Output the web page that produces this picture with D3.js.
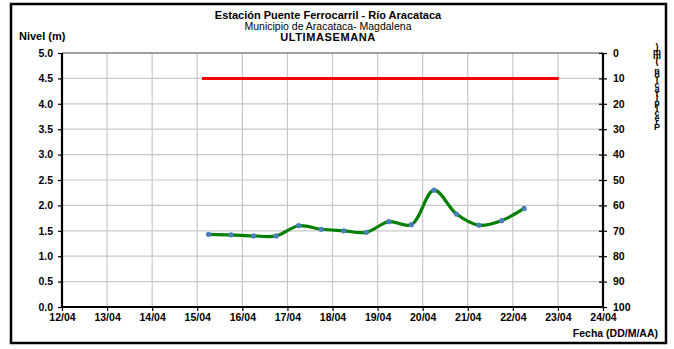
<!DOCTYPE html>
<html>
<head>
<meta charset="utf-8">
<script src="https://cdn.jsdelivr.net/npm/d3@7"></script>
<style>
	html, body { margin: 0; padding: 0; background: #fff; }
	svg { display: block; font-family: "Liberation Sans", Arial, sans-serif; }
</style>
</head>
<body>
<svg id="chart" width="674" height="349"></svg>
<script>
;(() => {
	'use strict';

	// chart data
	const titulo = 'Estación Puente Ferrocarril - Río Aracataca',
		subtitulo = 'Municipio de Aracataca- Magdalena',
		periodo = 'ULTIMASEMANA',
		precipTitulo = 'Precipitación (mm)';

	const fechas = [
		'2017-04-15T06:00', '2017-04-15T18:00', '2017-04-16T06:00', '2017-04-16T18:00',
		'2017-04-17T06:00', '2017-04-17T18:00', '2017-04-18T06:00', '2017-04-18T18:00',
		'2017-04-19T06:00', '2017-04-19T18:00', '2017-04-20T06:00', '2017-04-20T18:00',
		'2017-04-21T06:00', '2017-04-21T18:00', '2017-04-22T06:00'
	];
	const niveles = [1.43, 1.42, 1.40, 1.40, 1.60, 1.53, 1.50, 1.47, 1.68, 1.62, 2.30, 1.83, 1.61, 1.70, 1.94];

	// alert threshold (red line)
	const umbralFechas = ['2017-04-15T02:30', '2017-04-23T00:30'],
		umbralNivel = [4.5, 4.5];

	const xDominio = ['2017-04-12T00:00', '2017-04-24T00:00'],
		nivelTicks = [0, 0.5, 1, 1.5, 2, 2.5, 3, 3.5, 4, 4.5, 5],
		precipTicks = [0, 10, 20, 30, 40, 50, 60, 70, 80, 90, 100];

	const svg = d3.select('#chart'),
		margin = {left: 62, right: 603, top: 53, bottom: 307},
		parse = d3.utcParse('%Y-%m-%dT%H:%M');

	const x = d3.scaleUtc()
		.domain(xDominio.map(parse))
		.range([margin.left, margin.right]);
	const y = d3.scaleLinear().domain([0, 5]).range([margin.bottom, margin.top]);
	const yP = d3.scaleLinear().domain([0, 100]).range([margin.top, margin.bottom]);

	// outer frame
	svg.append('rect')
		.attr('x', 11).attr('y', 4)
		.attr('width', 655).attr('height', 339)
		.attr('fill', 'none').attr('stroke', '#000').attr('stroke-width', 2.5);

	// gridlines
	const dias = d3.utcDay.range(x.domain()[0], d3.utcDay.offset(x.domain()[1], 1));
	svg.append('g').selectAll('line')
		.data(dias)
		.enter().append('line')
		.attr('x1', d => x(d)).attr('x2', d => x(d))
		.attr('y1', margin.top).attr('y2', margin.bottom)
		.attr('stroke', '#c8c8c8').attr('stroke-width', 1.2);
	svg.append('g').selectAll('line')
		.data(nivelTicks)
		.enter().append('line')
		.attr('x1', margin.left).attr('x2', margin.right)
		.attr('y1', d => y(d)).attr('y2', d => y(d))
		.attr('stroke', d => d === 5 ? '#808080' : '#c8c8c8')
		.attr('stroke-width', d => d === 5 ? 1.5 : 1.2);

	// left axis
	const ejeIzq = svg.append('g')
		.attr('transform', `translate(${margin.left},0)`)
		.call(d3.axisLeft(y).tickValues(nivelTicks).tickFormat(d3.format('.1f')).tickSize(4).tickPadding(5));
	// right axis
	const ejeDer = svg.append('g')
		.attr('transform', `translate(${margin.right},0)`)
		.call(d3.axisRight(yP).tickValues(precipTicks).tickSize(4).tickPadding(6));
	ejeDer.selectAll('.tick line').attr('x1', -4);
	// bottom axis
	const ejeInf = svg.append('g')
		.attr('transform', `translate(0,${margin.bottom})`)
		.call(d3.axisBottom(x).tickValues(dias).tickFormat(d3.utcFormat('%d/%m')).tickSize(4).tickPadding(3));

	[ejeIzq, ejeDer, ejeInf].forEach(g => {
		g.selectAll('.domain').attr('stroke', '#000').attr('stroke-width', 2.2);
		g.selectAll('.tick line').attr('stroke', '#000').attr('stroke-width', 1.2);
		g.selectAll('.tick text')
			.attr('fill', '#000')
			.attr('font-size', 10.5)
			.attr('font-weight', 'bold')
			.attr('font-family', '"Liberation Sans", Arial, sans-serif');
	});
	ejeIzq.select('.domain').attr('d', `M0,${margin.bottom}V${margin.top}`);
	ejeDer.select('.domain').attr('d', `M0,${margin.bottom}V${margin.top}`);
	ejeInf.select('.domain').attr('d', `M${margin.left},0H${margin.right}`);

	// threshold line
	const linea = d3.line()
		.x(d => x(d[0]))
		.y(d => y(d[1]));
	svg.append('path')
		.datum(umbralFechas.map((f, i) => [parse(f), umbralNivel[i]]))
		.attr('d', linea)
		.attr('fill', 'none').attr('stroke', '#ff0000').attr('stroke-width', 3);

	// level series
	const serie = fechas.map((f, i) => [parse(f), niveles[i]]);
	svg.append('path')
		.datum(serie)
		.attr('d', linea.curve(d3.curveCatmullRom))
		.attr('fill', 'none').attr('stroke', '#008000').attr('stroke-width', 3.2);
	svg.append('g').selectAll('circle')
		.data(serie)
		.enter().append('circle')
		.attr('cx', d => x(d[0])).attr('cy', d => y(d[1]))
		.attr('r', 2.6)
		.attr('fill', '#4a7ebb');

	// titles
	const texto = (tx, ty, s, size, weight, anchor) => svg.append('text')
		.attr('x', tx).attr('y', ty)
		.attr('font-size', size)
		.attr('font-weight', weight)
		.attr('text-anchor', anchor || 'middle')
		.text(s);
	texto(328, 19, titulo, 11, 'bold');
	texto(328, 30, subtitulo, 10.5, 'normal');
	texto(328, 41, periodo, 11, 'bold').attr('letter-spacing', 0.6);
	texto(19, 40, 'Nivel (m)', 11, 'bold', 'start');
	texto(658, 337, 'Fecha (DD/M/AA)', 10.5, 'bold', 'end');

	// right axis title: upright glyphs stacked bottom to top, squeezed as in the original
	svg.append('text')
		.attr('x', 657)
		.attr('y', 42)
		.attr('font-size', 9)
		.attr('font-weight', 'bold')
		.style('writing-mode', 'vertical-rl')
		.style('text-orientation', 'upright')
		.style('letter-spacing', '-5.3px')
		.text(precipTitulo.split('').reverse().join(''));
})();
</script>
</body>
</html>
